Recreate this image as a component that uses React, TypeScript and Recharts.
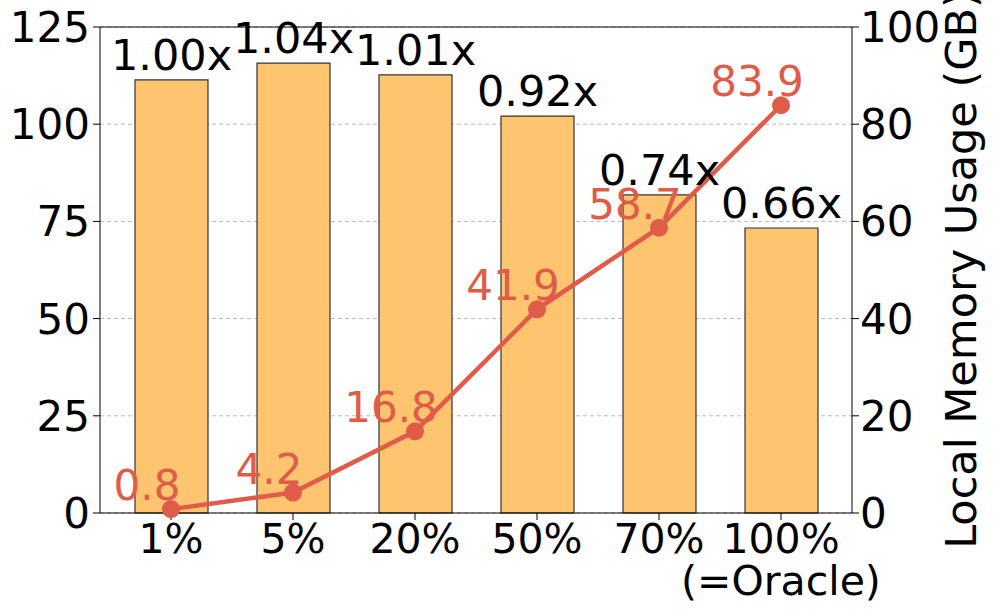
import {
  ComposedChart,
  Bar,
  Line,
  XAxis,
  YAxis,
  CartesianGrid,
  LabelList,
  ReferenceLine,
} from "recharts";

const categories = ["1%", "5%", "20%", "50%", "70%", "100%"];
const subLabels = ["", "", "", "", "", "(=Oracle)"];
const throughput = [111.4, 115.7, 112.7, 102.1, 81.8, 73.3];
const speedupLabels = ["1.00x", "1.04x", "1.01x", "0.92x", "0.74x", "0.66x"];
const memoryGB = [0.8, 4.2, 16.8, 41.9, 58.7, 83.9];
const leftTicks = [0, 25, 50, 75, 100, 125];
const rightTicks = [0, 20, 40, 60, 80, 100];

const BAR_FILL = "#fec470";
const LINE_COLOR = "#e05b48";

const data = categories.map((name, i) => ({
  name,
  sub: subLabels[i],
  throughput: throughput[i],
  speedup: speedupLabels[i],
  mem: memoryGB[i],
}));

const XTick = (props: any) => {
  const { x, y, payload, index } = props;
  const sub = subLabels[index];
  return (
    <g>
      <text x={x} y={y} dy={31} textAnchor="middle" fontSize={41} fill="#000">
        {payload.value}
      </text>
      {sub && (
        <text x={x} y={y} dy={73} textAnchor="middle" fontSize={41} fill="#000">
          {sub}
        </text>
      )}
    </g>
  );
};

const MemLabel = (props: any) => {
  const { x, y, value } = props;
  return (
    <text x={x - 24} y={y - 9} textAnchor="middle" fontSize={42} fill={LINE_COLOR}>
      {Number(value).toFixed(1)}
    </text>
  );
};

// axis title centred on the plot height (runs off the top a bit, as in the original)
const RightTitle = (props: any) => {
  const { viewBox } = props;
  const cx = viewBox.x + 124;
  const cy = viewBox.y + viewBox.height / 2;
  return (
    <text
      transform={`translate(${cx},${cy}) rotate(-90)`}
      textAnchor="middle"
      fontSize={43}
      fill="#000"
    >
      Local Memory Usage (GB)
    </text>
  );
};

export default function App() {
  return (
    <div
      style={{
        position: "absolute",
        left: 0,
        top: 0,
        width: 997,
        height: 613,
        fontFamily: "DejaVu Sans",
        background: "#fff",
      }}
    >
      <ComposedChart
        width={997}
        height={613}
        data={data}
        margin={{ top: 27, right: 0, bottom: 0, left: 0 }}
      >
        <CartesianGrid
          yAxisId="left"
          vertical={false}
          stroke="#bbb"
          strokeDasharray="4 3"
        />
        <XAxis
          dataKey="name"
          interval={0}
          height={100}
          padding={{ left: 10, right: 10 }}
          tickSize={7}
          axisLine={{ stroke: "#000" }}
          tickLine={{ stroke: "#000" }}
          tick={<XTick />}
        />
        <YAxis
          yAxisId="left"
          domain={[0, 125]}
          ticks={leftTicks}
          width={100}
          tickSize={7}
          tickMargin={3}
          axisLine={{ stroke: "#000" }}
          tickLine={{ stroke: "#000" }}
          tick={{ fontSize: 42, fill: "#000" }}
        />
        <YAxis
          yAxisId="right"
          orientation="right"
          domain={[0, 100]}
          ticks={rightTicks}
          width={145}
          tickSize={7}
          tickMargin={1}
          axisLine={{ stroke: "#000" }}
          tickLine={{ stroke: "#000" }}
          tick={{ fontSize: 42, fill: "#000" }}
          label={{ content: <RightTitle /> }}
        />
        <ReferenceLine yAxisId="left" y={125} stroke="#000" />
        <Bar
          yAxisId="left"
          dataKey="throughput"
          fill={BAR_FILL}
          stroke="#333"
          strokeWidth={1.2}
          barSize={73}
          isAnimationActive={false}
        >
          <LabelList
            dataKey="speedup"
            position="top"
            offset={10}
            fontSize={43}
            fill="#000"
          />
        </Bar>
        <Line
          yAxisId="right"
          dataKey="mem"
          stroke={LINE_COLOR}
          strokeWidth={4.5}
          dot={{ r: 9, fill: LINE_COLOR, stroke: LINE_COLOR, strokeWidth: 0 }}
          isAnimationActive={false}
        >
          <LabelList dataKey="mem" content={<MemLabel />} />
        </Line>
      </ComposedChart>
    </div>
  );
}
